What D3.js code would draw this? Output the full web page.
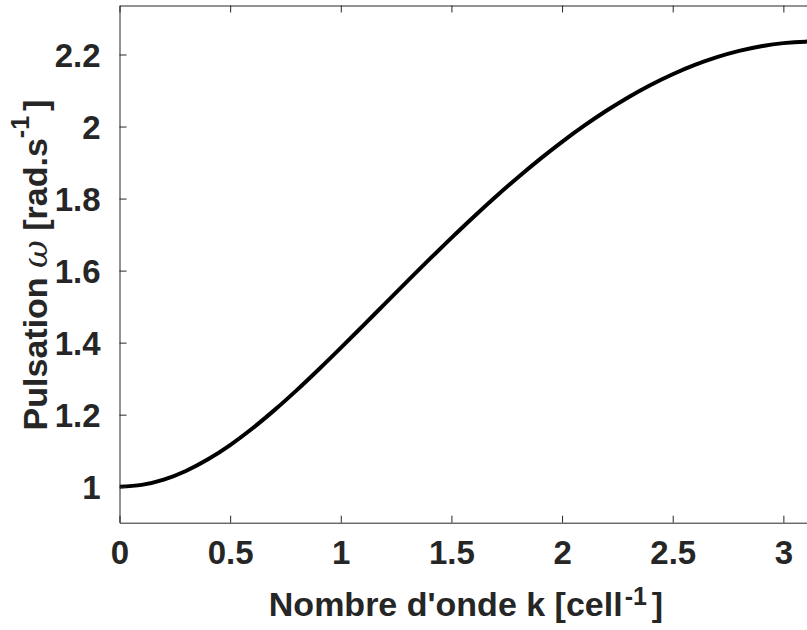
<!DOCTYPE html>
<html>
<head>
<meta charset="utf-8">
<script src="https://cdn.jsdelivr.net/npm/d3@7"></script>
<style>
  html, body { margin: 0; padding: 0; background: #fff; }
  svg { display: block; font-family: "Liberation Sans", Arial, Helvetica, sans-serif; }
</style>
</head>
<body>
<svg id="chart" width="807" height="630"></svg>
<script>
// Dispersion curve: wave number k (cell^-1) against angular frequency ω (rad/s)
const waveNumber = [0, 0.1, 0.2, 0.3, 0.4, 0.5, 0.6, 0.7, 0.8, 0.9, 1.0, 1.1, 1.2, 1.3, 1.4, 1.5,
  1.6, 1.7, 1.8, 1.9, 2.0, 2.1, 2.2, 2.3, 2.4, 2.5, 2.6, 2.7, 2.8, 2.9, 3.0, 3.1, 3.1416];
const pulsation = [1.0000, 1.0050, 1.0197, 1.0437, 1.0761, 1.1157, 1.1616, 1.2126, 1.2675, 1.3255,
  1.3854, 1.4467, 1.5084, 1.5700, 1.6310, 1.6907, 1.7488, 1.8049, 1.8586, 1.9096, 1.9576,
  2.0024, 2.0438, 2.0815, 2.1154, 2.1453, 2.1711, 2.1927, 2.2101, 2.2230, 2.2316, 2.2357, 2.2361];

const xTicks = [0, 0.5, 1, 1.5, 2, 2.5, 3];
const yTicks = [1, 1.2, 1.4, 1.6, 1.8, 2, 2.2];
const xDomain = [0, 3.1416];
const yDomain = [0.9, 2.3361];

const ink = "#262626";
const svg = d3.select("#chart");

// plot box (right side runs past the visible canvas)
const boxLeft = 119.5, boxRight = 814.7, boxTop = 5.5, boxBottom = 522.7;

const x = d3.scaleLinear().domain(xDomain).range([boxLeft, boxRight]);
const y = d3.scaleLinear().domain(yDomain).range([boxBottom, boxTop]);

svg.append("defs").append("clipPath").attr("id", "plot-clip")
  .append("rect").attr("x", boxLeft).attr("y", boxTop)
  .attr("width", boxRight - boxLeft).attr("height", boxBottom - boxTop);

// curve
const data = waveNumber.map((k, i) => ({ k, w: pulsation[i] }));
svg.append("path")
  .datum(data)
  .attr("clip-path", "url(#plot-clip)")
  .attr("fill", "none")
  .attr("stroke", "#000")
  .attr("stroke-width", 4)
  .attr("stroke-linejoin", "round")
  .attr("d", d3.line().x(d => x(d.k)).y(d => y(d.w)).curve(d3.curveMonotoneX));

// axes with inward ticks, box style
const tickLen = 7;
const fmt = d => String(+d.toFixed(1));

const xAxisBottom = svg.append("g").attr("transform", `translate(0,${boxBottom})`)
  .call(d3.axisBottom(x).tickValues(xTicks).tickSizeInner(-tickLen).tickSizeOuter(0).tickPadding(18).tickFormat(fmt));
const xAxisTop = svg.append("g").attr("transform", `translate(0,${boxTop})`)
  .call(d3.axisTop(x).tickValues(xTicks).tickSizeInner(-tickLen).tickSizeOuter(0).tickFormat(""));
const yAxisLeft = svg.append("g").attr("transform", `translate(${boxLeft},0)`)
  .call(d3.axisLeft(y).tickValues(yTicks).tickSizeInner(-tickLen).tickSizeOuter(0).tickPadding(19).tickFormat(fmt));
const yAxisRight = svg.append("g").attr("transform", `translate(${boxRight},0)`)
  .call(d3.axisRight(y).tickValues(yTicks).tickSizeInner(-tickLen).tickSizeOuter(0).tickFormat(""));

[xAxisBottom, xAxisTop, yAxisLeft, yAxisRight].forEach(g => {
  g.select(".domain").attr("stroke", ink).attr("stroke-width", 1);
  g.selectAll(".tick line").attr("stroke", ink).attr("stroke-width", 1);
  g.selectAll(".tick text")
    .attr("fill", ink)
    .attr("font-family", "'Liberation Sans', Arial, sans-serif")
    .attr("font-size", 33)
    .attr("font-weight", "bold");
});
xAxisBottom.selectAll(".tick text").attr("dy", "0.71em");
yAxisLeft.selectAll(".tick text").attr("dy", "0.35em");

// x axis title
const xt = svg.append("text")
  .attr("x", 466)
  .attr("y", 616)
  .attr("text-anchor", "middle")
  .attr("fill", ink)
  .attr("font-size", 34)
  .attr("font-weight", "bold");
xt.append("tspan").text("Nombre d'onde k [cell");
xt.append("tspan").attr("font-size", 25).attr("dx", 2).attr("dy", -11).text("-1");
xt.append("tspan").attr("dx", 5).attr("dy", 11).text("]");

// y axis title
const yt = svg.append("text")
  .attr("transform", "translate(47,265) rotate(-90)")
  .attr("text-anchor", "middle")
  .attr("fill", ink)
  .attr("font-size", 34)
  .attr("font-weight", "bold");
yt.append("tspan").text("Pulsation ");
yt.append("tspan").attr("font-style", "italic").attr("font-weight", "normal")
  .attr("font-family", "'DejaVu Serif', serif").text("ω");
yt.append("tspan").text(" [rad.s");
yt.append("tspan").attr("font-size", 25).attr("dy", -18).text("-1");
yt.append("tspan").attr("dx", 5).attr("dy", 18).text("]");
</script>
</body>
</html>
